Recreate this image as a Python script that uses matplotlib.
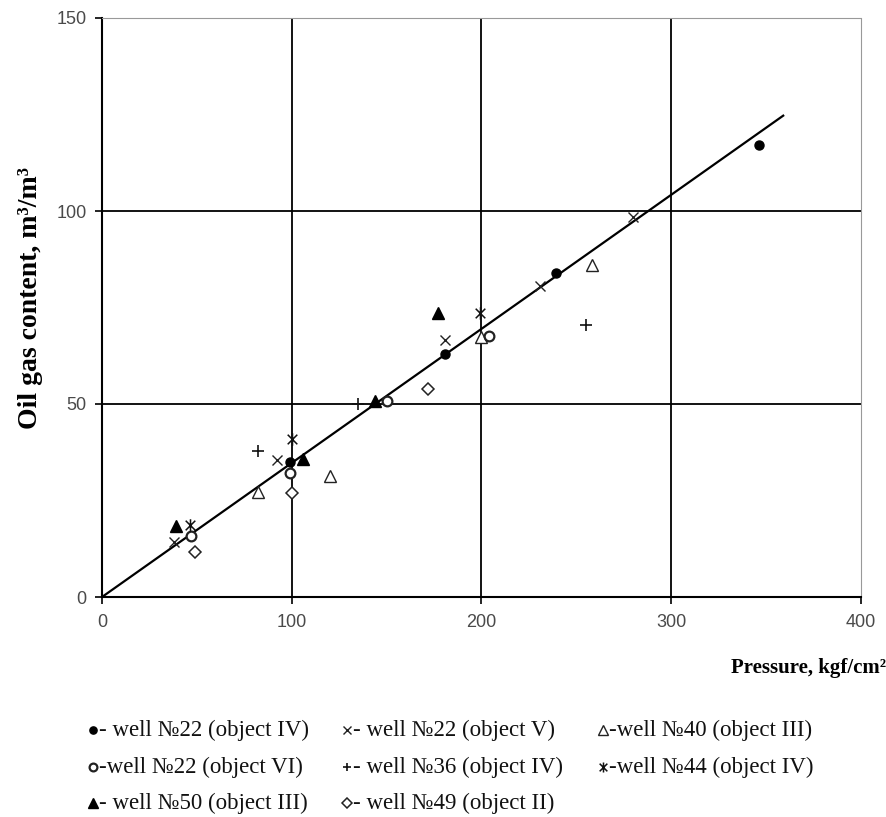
import matplotlib
matplotlib.use("Agg")
import matplotlib.pyplot as plt
from matplotlib.path import Path
import numpy as np

# ---- data ----
w22_iv_x = [99, 181, 239, 346]
w22_iv_y = [35, 63, 84, 117]
w22_v_x = [38, 92, 181, 231, 280]
w22_v_y = [14.3, 35.5, 66.6, 80.6, 98.5]
w40_iii_x = [82, 120, 200, 258]
w40_iii_y = [27.3, 31.4, 67.4, 86]
w22_vi_x = [47, 99, 150, 204]
w22_vi_y = [15.9, 32, 50.9, 67.6]
w36_iv_x = [82, 135, 255]
w36_iv_y = [37.9, 50, 70.5]
w44_iv_x = [46.6, 100, 199]
w44_iv_y = [18.6, 40.9, 73.7]
w50_iii_x = [39, 106, 144, 177]
w50_iii_y = [18.5, 35.7, 50.9, 73.5]
w49_ii_x = [49, 100, 172]
w49_ii_y = [11.7, 26.9, 53.8]
fit_x = [0, 359]
fit_y = [0, 124.7]

x_ticks = [0, 100, 200, 300, 400]
y_ticks = [0, 50, 100, 150]

legend_labels = [
    "- well №22 (object IV)", "- well №22 (object V)", "-well №40 (object III)",
    "-well №22 (object VI)", "- well №36 (object IV)", "-well №44 (object IV)",
    "- well №50 (object III)", "- well №49 (object II)",
]

# asterisk marker (x with vertical bar)
ast = Path([(-1, -1), (1, 1), (-1, 1), (1, -1), (0, -1.3), (0, 1.3)],
           [Path.MOVETO, Path.LINETO, Path.MOVETO, Path.LINETO, Path.MOVETO, Path.LINETO])

styles = [
    dict(marker='o', ms=6.5, mfc='black', mec='black', mew=1),
    dict(marker='x', ms=7, mfc='none', mec='#222222', mew=1.0),
    dict(marker='^', ms=8.5, mfc='white', mec='#222222', mew=1.0),
    dict(marker='o', ms=7, mfc='white', mec='#222222', mew=1.6),
    dict(marker='+', ms=8, mfc='none', mec='#111111', mew=1.2),
    dict(marker=ast, ms=9, mfc='none', mec='#111111', mew=1.1),
    dict(marker='^', ms=8.5, mfc='black', mec='black', mew=1),
    dict(marker='D', ms=6, mfc='white', mec='#222222', mew=1.1),
]
series = [
    (w22_iv_x, w22_iv_y), (w22_v_x, w22_v_y), (w40_iii_x, w40_iii_y),
    (w22_vi_x, w22_vi_y), (w36_iv_x, w36_iv_y), (w44_iv_x, w44_iv_y),
    (w50_iii_x, w50_iii_y), (w49_ii_x, w49_ii_y),
]

fig = plt.figure(figsize=(8.87, 8.17), dpi=100)
ax = fig.add_axes([102 / 887, 1 - 597 / 817, (861 - 102) / 887, (597 - 18) / 817])
ax.set_xlim(0, 400)
ax.set_ylim(0, 150)

for v in x_ticks[1:-1]:
    ax.axvline(v, color='black', lw=1.3, zorder=1)
for v in y_ticks[1:-1]:
    ax.axhline(v, color='black', lw=1.3, zorder=1)

ax.plot(fit_x, fit_y, color='black', lw=1.6, zorder=2)

for (xs, ys), st in zip(series, styles):
    ax.plot(xs, ys, linestyle='none', zorder=3, **st)

for s in ['top', 'right']:
    ax.spines[s].set_color('#999999')
    ax.spines[s].set_linestyle((0, (2, 1)))
    ax.spines[s].set_linewidth(0.8)
for s in ['left', 'bottom']:
    ax.spines[s].set_color('black')
    ax.spines[s].set_linewidth(1.5)

ax.set_xticks(x_ticks)
ax.set_yticks(y_ticks)
ax.tick_params(axis='both', direction='out', length=5, width=1.2, color='black',
               labelsize=13, labelcolor='#4a4a4a')
ax.tick_params(axis='x', pad=7)
ax.tick_params(axis='y', pad=6)
for lab in ax.get_xticklabels() + ax.get_yticklabels():
    lab.set_fontfamily('Liberation Sans')

serif = ['Liberation Serif', 'DejaVu Serif']
fig.text(886 / 887, 1 - 668 / 817, "Pressure, kgf/cm²", ha='right', va='center',
         fontsize=15, fontweight='bold', family=serif)
fig.text(31 / 887, 1 - 298 / 817, "Oil gas content, m³/m³", ha='center', va='center',
         rotation=90, fontsize=20, fontweight='bold', family=serif)

# legend block below chart
lax = fig.add_axes([0, 0, 1, 1], facecolor='none')
lax.set_xlim(0, 887)
lax.set_ylim(817, 0)
lax.axis('off')
col_x = [93, 347, 603]
row_y = [730, 767, 803]
for i, (lab, st) in enumerate(zip(legend_labels, styles)):
    r, c = divmod(i, 3)
    st2 = dict(st)
    st2['ms'] = st['ms'] * 0.8
    lax.plot([col_x[c]], [row_y[r]], linestyle='none', **st2)
    lax.text(col_x[c] + 6, row_y[r], lab, ha='left', va='center',
             fontsize=16.5, family=serif, color='#111111')

fig.savefig("out.png", dpi=100, facecolor='white')
